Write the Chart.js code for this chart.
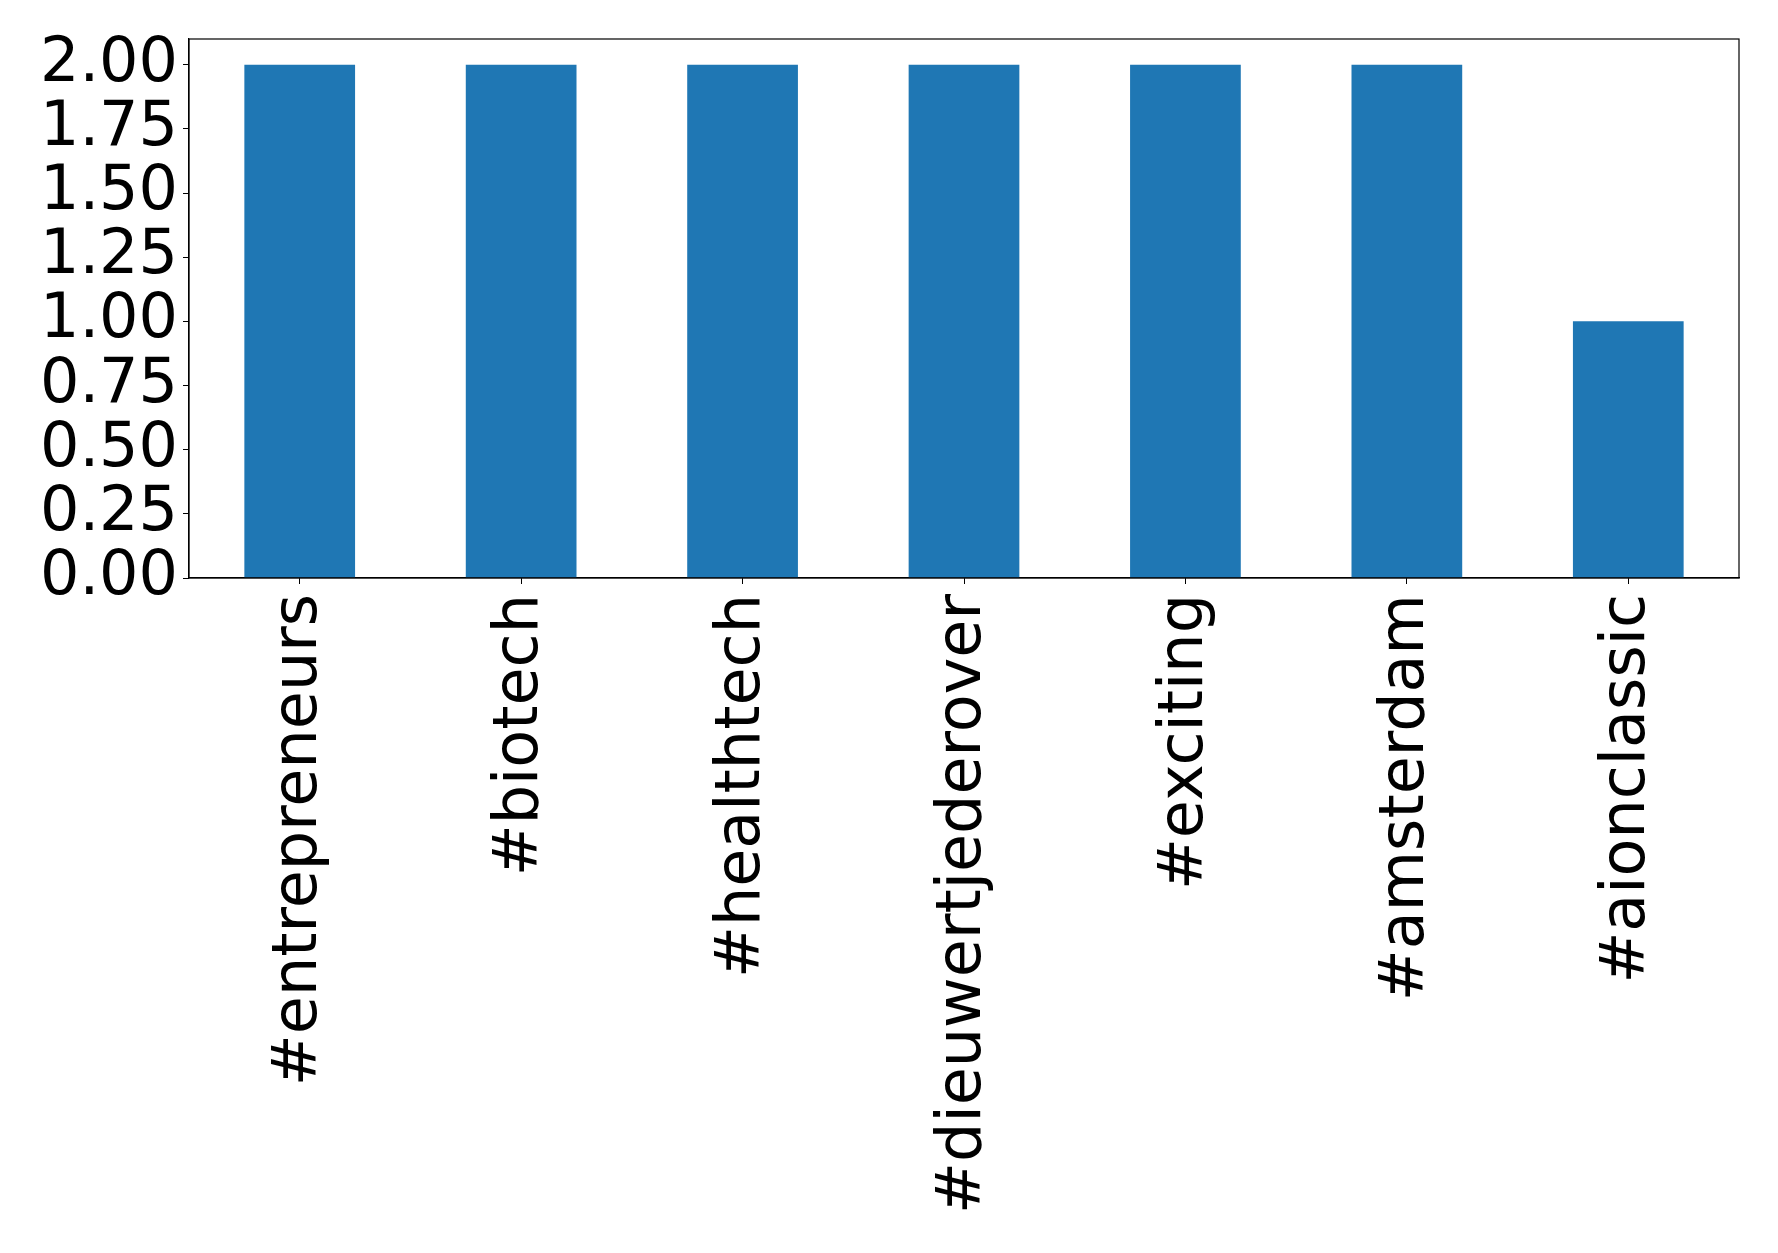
<!DOCTYPE html>
<html>
<head>
<meta charset="utf-8">
<script src="https://cdn.jsdelivr.net/npm/chart.js@4/dist/chart.umd.min.js"></script>
<style>
  html, body { margin: 0; padding: 0; background: #fff; }
  #wrap { width: 1778px; height: 1253px; position: relative; }
</style>
</head>
<body>
<div id="wrap"><canvas id="chart"></canvas></div>
<script>
const categories = ["#entrepreneurs", "#biotech", "#healthtech", "#dieuwertjederover", "#exciting", "#amsterdam", "#aionclassic"];
const counts = [2, 2, 2, 2, 2, 2, 1];
const yTickStep = 0.25;
const yMax = 2.1;

const FONT = "'DejaVu Sans', sans-serif";

// full box round the plot area, like matplotlib's spines
const frame = {
  id: "frame",
  afterDraw(chart) {
    const { ctx, chartArea: a } = chart;
    ctx.save();
    ctx.strokeStyle = "#000";
    ctx.lineWidth = 1.2;
    ctx.strokeRect(a.left, a.top, a.right - a.left, a.bottom - a.top);
    ctx.restore();
  }
};

new Chart(document.getElementById("chart"), {
  type: "bar",
  data: {
    labels: categories,
    datasets: [{
      data: counts,
      backgroundColor: "#1f77b4",
      borderWidth: 0,
      categoryPercentage: 1.0,
      barPercentage: 0.5
    }]
  },
  options: {
    responsive: true,
    maintainAspectRatio: false,
    animation: false,
    layout: { padding: { left: 0, top: 39, right: 39, bottom: 0 } },
    plugins: { legend: { display: false }, tooltip: { enabled: false } },
    scales: {
      x: {
        grid: { display: true, offset: false, drawOnChartArea: false, drawTicks: true, tickLength: 6, color: "#000" },
        border: { display: true, color: "#000", width: 1.2 },
        ticks: {
          color: "#000",
          font: { family: FONT, size: 62 },
          minRotation: 90,
          maxRotation: 90,
          autoSkip: false,
          padding: 10
        },
        afterFit(scale) { scale.height = 1253 - 578; }
      },
      y: {
        min: 0,
        max: yMax,
        grid: { display: true, drawOnChartArea: false, drawTicks: true, tickLength: 6, color: "#000" },
        border: { display: true, color: "#000", width: 1.2 },
        ticks: {
          stepSize: yTickStep,
          includeBounds: false,
          autoSkip: false,
          color: "#000",
          font: { family: FONT, size: 62 },
          padding: 5,
          callback: v => v.toFixed(2)
        },
        afterFit(scale) {
          scale.width = 189;
          scale.paddingTop = 0;
          scale.paddingBottom = 0;
        }
      }
    }
  },
  plugins: [frame]
});
</script>
</body>
</html>
